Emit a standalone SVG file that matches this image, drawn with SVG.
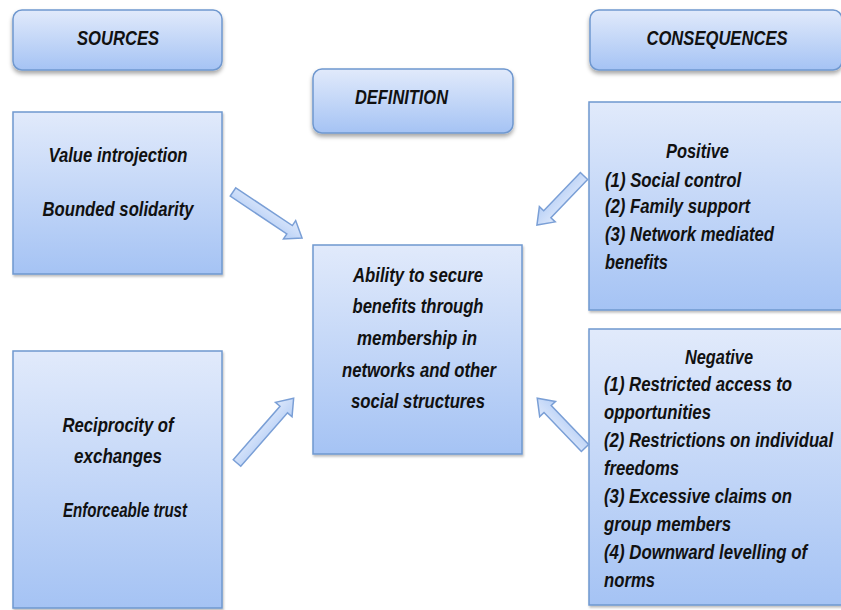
<svg xmlns="http://www.w3.org/2000/svg" width="841" height="610" viewBox="0 0 841 610">
<defs>
<linearGradient id="boxg" x1="0" y1="0" x2="0" y2="1">
<stop offset="0" stop-color="#e1eafb"/>
<stop offset="1" stop-color="#a5c3f4"/>
</linearGradient>
<linearGradient id="arrg" x1="0" y1="0" x2="0" y2="1">
<stop offset="0" stop-color="#dde8fb"/>
<stop offset="1" stop-color="#b8d0f6"/>
</linearGradient>
<filter id="sh" x="-10%" y="-10%" width="120%" height="130%">
<feDropShadow dx="0" dy="3" stdDeviation="2" flood-color="#000" flood-opacity="0.35"/>
</filter>
<filter id="sh2" x="-10%" y="-10%" width="120%" height="130%">
<feDropShadow dx="1" dy="2" stdDeviation="1.2" flood-color="#000" flood-opacity="0.25"/>
</filter>
</defs>
<style>
.box{fill:url(#boxg);stroke:#6f98cf;stroke-width:1.5}
.hdr{fill:url(#boxg);stroke:#6f98cf;stroke-width:1.5}
.arr{fill:url(#arrg);stroke:#7a9fd6;stroke-width:1.5;stroke-linejoin:miter}
text{font-family:"Liberation Sans",Arial,sans-serif;font-weight:bold;font-style:italic;font-size:21px;fill:#111}
.c{text-anchor:middle}
</style>
<rect width="841" height="610" fill="#fff"/>

<g id="sources">
<rect class="hdr" x="13" y="10" width="209" height="60" rx="9" filter="url(#sh)"/>
<text class="c" transform="translate(118,45) scale(0.82,1)" textLength="100" lengthAdjust="spacingAndGlyphs">SOURCES</text>
</g>
<g id="definition">
<rect class="hdr" x="313" y="69" width="200" height="64" rx="9" filter="url(#sh)"/>
<text transform="translate(355,104) scale(0.82,1)" textLength="113.4" lengthAdjust="spacingAndGlyphs">DEFINITION</text>
</g>
<g id="consequences">
<rect class="hdr" x="590" y="10" width="252" height="60" rx="9" filter="url(#sh)"/>
<text class="c" transform="translate(717,45) scale(0.82,1)" textLength="172" lengthAdjust="spacingAndGlyphs">CONSEQUENCES</text>
</g>

<g id="source1">
<rect class="box" x="13" y="112" width="209" height="162" filter="url(#sh2)"/>
<text class="c" transform="translate(118,162) scale(0.82,1)" textLength="169.5" lengthAdjust="spacingAndGlyphs">Value introjection</text>
<text class="c" transform="translate(118,216) scale(0.82,1)" textLength="184.1" lengthAdjust="spacingAndGlyphs">Bounded solidarity</text>
</g>
<g id="source2">
<rect class="box" x="13" y="351" width="209" height="257" filter="url(#sh2)"/>
<text class="c" transform="translate(118,432) scale(0.82,1)" textLength="135.4" lengthAdjust="spacingAndGlyphs">Reciprocity of</text>
<text class="c" transform="translate(118,463) scale(0.82,1)" textLength="107.3" lengthAdjust="spacingAndGlyphs">exchanges</text>
<text class="c" transform="translate(125,517) scale(0.82,1)" textLength="151.2" lengthAdjust="spacingAndGlyphs">Enforceable trust</text>
</g>

<g id="definition-body">
<rect class="box" x="313" y="245" width="209" height="209" filter="url(#sh2)"/>
<text class="c" transform="translate(418,282) scale(0.82,1)" textLength="158.5" lengthAdjust="spacingAndGlyphs">Ability to secure</text>
<text class="c" transform="translate(418,313) scale(0.82,1)" textLength="159.8" lengthAdjust="spacingAndGlyphs">benefits through</text>
<text class="c" transform="translate(417,345) scale(0.82,1)" textLength="146.3" lengthAdjust="spacingAndGlyphs">membership in</text>
<text class="c" transform="translate(419,377) scale(0.82,1)" textLength="187.8" lengthAdjust="spacingAndGlyphs">networks and other</text>
<text class="c" transform="translate(418,408) scale(0.82,1)" textLength="163.4" lengthAdjust="spacingAndGlyphs">social structures</text>
</g>

<g id="positive">
<rect class="box" x="589" y="102" width="253" height="208" filter="url(#sh2)"/>
<text transform="translate(666,158) scale(0.82,1)" textLength="76.8" lengthAdjust="spacingAndGlyphs">Positive</text>
<text transform="translate(605,187) scale(0.82,1)" textLength="165.9" lengthAdjust="spacingAndGlyphs">(1) Social control</text>
<text transform="translate(605,213) scale(0.82,1)" textLength="176.8" lengthAdjust="spacingAndGlyphs">(2) Family support</text>
<text transform="translate(605,241) scale(0.82,1)" textLength="206.1" lengthAdjust="spacingAndGlyphs">(3) Network mediated</text>
<text transform="translate(605,269) scale(0.82,1)" textLength="76.8" lengthAdjust="spacingAndGlyphs">benefits</text>
</g>

<g id="negative">
<rect class="box" x="589" y="329" width="253" height="276" filter="url(#sh2)"/>
<text transform="translate(685,364) scale(0.82,1)" textLength="82.9" lengthAdjust="spacingAndGlyphs">Negative</text>
<text transform="translate(604,391) scale(0.82,1)" textLength="229.3" lengthAdjust="spacingAndGlyphs">(1) Restricted access to</text>
<text transform="translate(604,419) scale(0.82,1)" textLength="130.5" lengthAdjust="spacingAndGlyphs">opportunities</text>
<text transform="translate(604,447) scale(0.82,1)" textLength="279.3" lengthAdjust="spacingAndGlyphs">(2) Restrictions on individual</text>
<text transform="translate(604,475) scale(0.82,1)" textLength="91.5" lengthAdjust="spacingAndGlyphs">freedoms</text>
<text transform="translate(604,503) scale(0.82,1)" textLength="229.3" lengthAdjust="spacingAndGlyphs">(3) Excessive claims on</text>
<text transform="translate(604,531) scale(0.82,1)" textLength="154.9" lengthAdjust="spacingAndGlyphs">group members</text>
<text transform="translate(604,559) scale(0.82,1)" textLength="247.6" lengthAdjust="spacingAndGlyphs">(4) Downward levelling of</text>
<text transform="translate(604,587) scale(0.82,1)" textLength="62.2" lengthAdjust="spacingAndGlyphs">norms</text>
</g>

<g id="connectors">
<path class="arr" transform="translate(233,192) rotate(33.7)" d="M0,-5 H68 V-11 L83,0 L68,11 V5 H0 Z"/>
<path class="arr" transform="translate(584,176) rotate(133.8)" d="M0,-5 H53 V-11 L68,0 L53,11 V5 H0 Z"/>
<path class="arr" transform="translate(237,463) rotate(-48.8)" d="M0,-5 H71 V-11 L86,0 L71,11 V5 H0 Z"/>
<path class="arr" transform="translate(585,448) rotate(-133.8)" d="M0,-5 H54 V-11 L69,0 L54,11 V5 H0 Z"/>
</g>
</svg>
